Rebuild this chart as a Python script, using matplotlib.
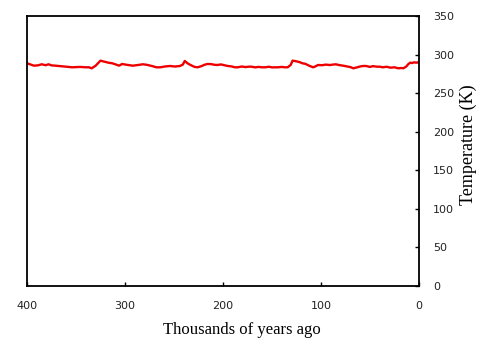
from matplotlib import pyplot as plt

# -----------------------------------------------------------------------------
# Data

kya = [400, 396, 393, 389, 385, 381, 378, 375, 371, 366, 360, 354, 346, 340,
       337, 334, 330, 327, 325, 321, 317, 313, 309, 306, 303, 298, 292, 286,
       282, 278, 272, 268, 264, 259, 254, 249, 244, 241, 239, 236, 232, 229,
       226, 222, 219, 216, 212, 209, 206, 202, 198, 195, 191, 188, 185, 181,
       177, 174, 171, 167, 164, 160, 157, 153, 150, 147, 144, 140, 137, 134,
       131, 129, 126, 122, 119, 116, 112, 108, 106, 103, 99, 95, 91, 88, 85,
       81, 77, 73, 70, 67, 63, 60, 57, 54, 50, 47, 43, 40, 37, 33, 29, 25, 21,
       18, 16, 13, 11, 9, 7, 5, 3, 1, 0]
temp = [288.7, 287.0, 285.6, 286.0, 287.4, 286.2, 287.4, 286.0, 285.6, 285.0,
        284.3, 283.5, 284.0, 283.5, 283.6, 282.2, 285.5, 289.5, 292.1, 290.8,
        289.5, 288.7, 287.0, 285.6, 287.8, 286.7, 285.6, 286.6, 287.4, 286.8,
        285.0, 283.5, 283.5, 284.6, 285.2, 284.5, 285.2, 287.0, 291.7, 288.5,
        285.8, 284.0, 283.5, 285.0, 286.7, 287.8, 287.6, 286.8, 286.5, 287.2,
        286.0, 285.2, 284.6, 283.5, 283.5, 284.5, 283.8, 284.3, 284.3, 283.4,
        284.0, 283.5, 283.5, 284.2, 283.4, 283.5, 283.5, 284.0, 283.5, 283.5,
        286.5, 292.1, 291.5, 290.3, 288.7, 288.0, 285.5, 283.5, 284.5, 286.5,
        286.2, 287.0, 286.4, 287.0, 287.4, 286.3, 285.5, 284.5, 283.8, 282.2,
        283.5, 284.6, 285.2, 285.2, 284.0, 285.0, 284.3, 284.3, 283.5, 284.2,
        283.0, 283.5, 282.2, 282.6, 282.2, 284.5, 287.5, 289.5, 289.0, 290.0,
        289.5, 290.0, 289.0]

xticks = [400, 300, 200, 100, 0]
yticks = [0, 50, 100, 150, 200, 250, 300, 350]

# -----------------------------------------------------------------------------
# Plotting

figure = plt.figure(figsize=(4.84, 3.5), dpi=100)
ax = figure.add_axes([27 / 484, 64 / 350, 392 / 484, 270 / 350])

ax.plot(kya, temp, color='#ee0000', linewidth=1.7)

ax.set_xlim(400, 0)
ax.set_ylim(0, 350)
ax.set_xticks(xticks)
ax.set_yticks(yticks)

ax.yaxis.tick_right()
ax.tick_params(axis='both', direction='in', length=3, width=1,
               labelsize=8, colors='black')
ax.tick_params(axis='x', pad=11)
ax.tick_params(axis='y', pad=10)
for lab in ax.get_xticklabels() + ax.get_yticklabels():
    lab.set_family('DejaVu Sans')
    lab.set_color('#222222')

for spine in ax.spines.values():
    spine.set_linewidth(1.3)

ax.set_xlabel('Thousands of years ago', family='Liberation Serif',
              fontsize=12, va='center')
ax.xaxis.set_label_coords(0.548, -0.163)
ax.yaxis.set_label_position('right')
ax.set_ylabel('Temperature (K)', family='Liberation Serif', fontsize=13,
              rotation=90, va='center')
ax.yaxis.set_label_coords(1.125, 0.522)

figure.savefig('out.png', dpi=100)
